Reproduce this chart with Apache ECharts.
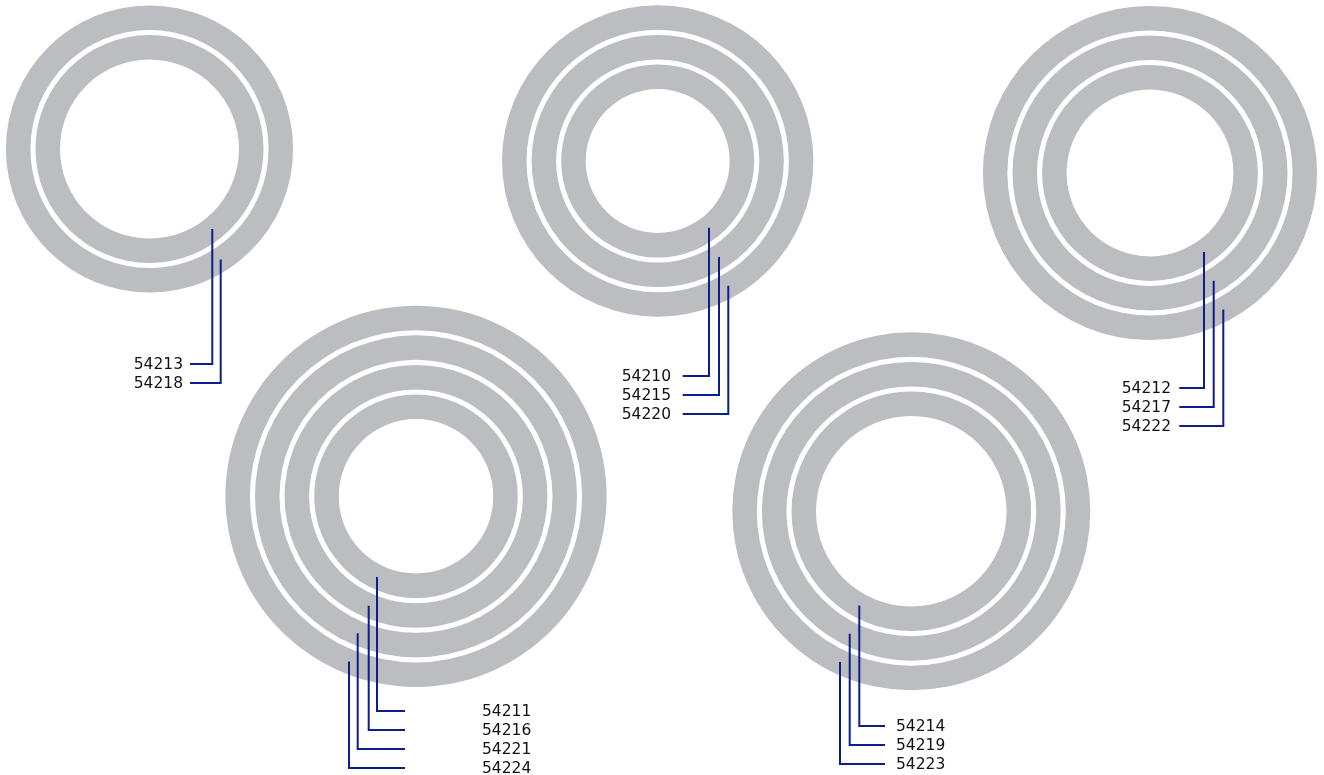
<!DOCTYPE html>
<html>
<head>
<meta charset="utf-8">
<style>
  html, body { margin: 0; padding: 0; background: #fff; }
  #main { width: 1324px; height: 775px; }
</style>
<script src="https://cdn.jsdelivr.net/npm/echarts@6/dist/echarts.min.js"></script>
</head>
<body>
<div id="main"></div>
<script>
// ring ids, innermost first, one list per ring group
const groupA = ['54213', '54218']
const groupB = ['54210', '54215', '54220']
const groupC = ['54212', '54217', '54222']
const groupD = ['54211', '54216', '54221', '54224']
const groupE = ['54214', '54219', '54223']
const groups = [groupA, groupB, groupC, groupD, groupE]

// layout of each group (pixels)
const layout = [
  { cx: 149.5, cy: 149, r0: 89.5, dx: [62.8, 71.2], hEnd: 190, textX: 183, align: 'right', row0: 364 },
  { cx: 657.7, cy: 161, r0: 72, dx: [51.3, 61.3, 70.6], hEnd: 682.7, textX: 671, align: 'right', row0: 376 },
  { cx: 1150, cy: 173, r0: 83.4, dx: [54, 63.7, 73.3], hEnd: 1179.3, textX: 1171, align: 'right', row0: 388 },
  { cx: 416, cy: 496.3, r0: 77.3, dx: [-39, -47.3, -58.3, -67], hEnd: 405, textX: 482, align: 'left', row0: 711 },
  { cx: 911.3, cy: 511.3, r0: 95.3, dx: [-52, -61.6, -71.3], hEnd: 885, textX: 896, align: 'left', row0: 726 }
]
const ringWidth = 24.5
const ringPitch = 29.6
const rowGap = 19
const ringColor = '#bcbdc0'
const lineColor = '#0a1e8c'

const chart = echarts.init(document.getElementById('main'))

const ringSeries = []
const leaderData = []
groups.forEach((ids, g) => {
  const l = layout[g]
  ids.forEach((id, i) => {
    const inner = l.r0 + i * ringPitch
    ringSeries.push({
      type: 'pie',
      silent: true,
      center: [l.cx, l.cy],
      radius: [inner, inner + ringWidth],
      label: { show: false },
      labelLine: { show: false },
      itemStyle: { color: ringColor, borderWidth: 0 },
      data: [{ name: id, value: 1 }]
    })
    leaderData.push([g, i])
  })
})

function renderLeader(params, api) {
  const g = api.value(0)
  const i = api.value(1)
  const l = layout[g]
  const rMid = l.r0 + i * ringPitch + ringWidth / 2
  const dx = l.dx[i]
  const x = l.cx + dx
  const y0 = l.cy + Math.sqrt(rMid * rMid - dx * dx)
  const yRow = l.row0 + i * rowGap
  const p0 = api.coord([x, y0])
  const p1 = api.coord([x, yRow])
  const p2 = api.coord([l.hEnd, yRow])
  const pt = api.coord([l.textX, yRow])
  return {
    type: 'group',
    children: [
      {
        type: 'polyline',
        shape: { points: [p0, p1, p2] },
        style: { stroke: lineColor, lineWidth: 2, fill: null }
      },
      {
        type: 'text',
        x: pt[0],
        y: pt[1] + 1,
        style: {
          text: groups[g][i],
          fill: '#111',
          font: '15.5px "DejaVu Sans", Verdana, sans-serif',
          align: l.align,
          verticalAlign: 'middle'
        }
      }
    ]
  }
}

chart.setOption({
  animation: false,
  grid: { left: 0, right: 0, top: 0, bottom: 0 },
  xAxis: { type: 'value', min: 0, max: 1324, show: false },
  yAxis: { type: 'value', min: 0, max: 775, inverse: true, show: false },
  series: ringSeries.concat([{
    type: 'custom',
    silent: true,
    renderItem: renderLeader,
    data: leaderData,
    z: 10
  }])
})
</script>
</body>
</html>
